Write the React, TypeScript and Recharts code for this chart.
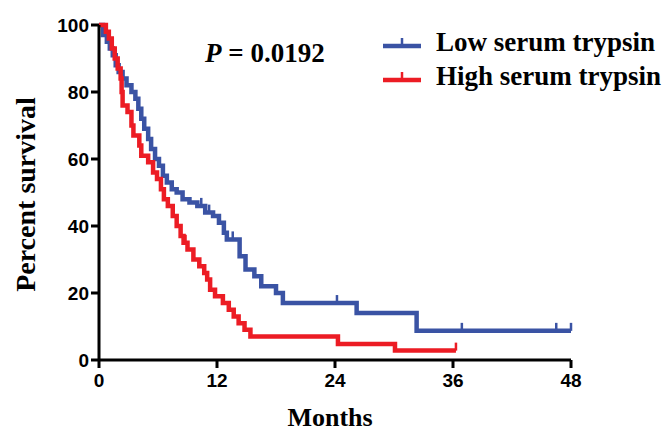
import React from "react";
import {
  ComposedChart,
  Line,
  XAxis,
  YAxis,
  Legend,
} from "recharts";

// Kaplan-Meier steps (months, percent survival)
const lowMonths = [0, 0.4, 0.8, 1.1, 1.4, 1.7, 2.0, 2.4, 2.8, 3.3, 3.7, 4.0, 4.3, 4.6, 5.0, 5.3, 5.7, 6.1, 6.5, 6.9, 7.4, 7.9, 8.5, 9.2, 10.0, 10.8, 11.6, 12.2, 12.7, 13.0, 14.3, 14.9, 15.8, 16.5, 18.0, 18.7, 26.2, 32.3];
const lowSurvival = [100, 97, 95, 93, 91, 88, 86, 84, 82, 80, 78, 75, 72, 69, 66, 63, 60, 58, 55, 53, 51, 50, 48, 47, 46, 44, 43, 41, 38, 36, 31, 27, 25, 22, 20, 17, 14, 8.7];
const lowCensored = [10.4, 11.2, 13.6, 24.2, 36.9, 46.5, 48];

const highMonths = [0, 0.7, 1.0, 1.3, 1.6, 1.9, 2.2, 2.3, 2.4, 2.9, 3.3, 3.5, 4.1, 4.3, 5.0, 5.5, 5.9, 6.3, 6.6, 7.0, 7.5, 7.9, 8.3, 8.6, 9.0, 9.6, 10.2, 10.7, 11.0, 11.3, 11.8, 12.6, 13.2, 13.7, 14.2, 14.8, 15.4, 24.3, 30.1];
const highSurvival = [100, 98, 96, 93, 90, 87, 84, 80, 76, 74, 70, 67, 64, 61, 59, 56, 54, 51, 48, 46, 43, 40, 37, 35, 33, 30, 28, 26, 24, 21, 19, 17, 15, 13, 11, 9, 7, 4.8, 2.8];
const highCensored = [8.8, 36.3];

const xTicks = [0, 12, 24, 36, 48];
const yTicks = [0, 20, 40, 60, 80, 100];

const seriesNames = ["Low serum trypsin", "High serum trypsin"];
const seriesColors = ["#3a53a4", "#ec1c24"];

const pValue = "0.0192";

type Pt = { m: number; s: number; c?: boolean };

function buildCurve(months: number[], surv: number[], censored: number[]): Pt[] {
  const pts: Pt[] = months.map((m, i) => ({ m, s: surv[i] }));
  censored.forEach((cm) => {
    let s = surv[0];
    months.forEach((m, i) => {
      if (m <= cm) s = surv[i];
    });
    pts.push({ m: cm, s, c: true });
  });
  return pts.sort((a, b) => a.m - b.m);
}

const lowData = buildCurve(lowMonths, lowSurvival, lowCensored);
const highData = buildCurve(highMonths, highSurvival, highCensored);

const serif = '"Liberation Serif", "Times New Roman", serif';
const sans = '"Liberation Sans", Arial, sans-serif';

const censorDot = (color: string) => (props: any) => {
  const { cx, cy, payload, index } = props;
  if (!payload?.c) return <g key={`n-${index}`} />;
  return (
    <line
      key={`c-${index}`}
      x1={cx}
      x2={cx}
      y1={cy - 8}
      y2={cy}
      stroke={color}
      strokeWidth={2.5}
    />
  );
};

const LegendBox = () => (
  <div style={{ fontFamily: serif, fontWeight: "bold", fontSize: 27, color: "#000" }}>
    {seriesNames.map((n, i) => (
      <div key={n} style={{ display: "flex", alignItems: "center", height: 34 }}>
        <svg width={38} height={14}>
          <line x1={0} x2={38} y1={11} y2={11} stroke={seriesColors[i]} strokeWidth={4.5} />
          <line x1={19} x2={19} y1={3} y2={11} stroke={seriesColors[i]} strokeWidth={2.5} />
        </svg>
        <span style={{ marginLeft: 15, lineHeight: 1 }}>{n}</span>
      </div>
    ))}
  </div>
);

const YTitle = (props: any) => {
  const vb = props.viewBox || { y: 25, height: 335 };
  const cx = 25;
  const cy = vb.y + vb.height / 2 + 2;
  return (
    <text
      x={cx}
      y={cy}
      transform={`rotate(-90, ${cx}, ${cy})`}
      textAnchor="middle"
      dominantBaseline="central"
      fontFamily={serif}
      fontWeight="bold"
      fontSize={28}
      fill="#000"
    >
      Percent survival
    </text>
  );
};

const XTitle = (props: any) => {
  const vb = props.viewBox || { x: 99, width: 472 };
  return (
    <text
      x={vb.x + vb.width / 2 - 5}
      y={426}
      textAnchor="middle"
      fontFamily={serif}
      fontWeight="bold"
      fontSize={26}
      fill="#000"
    >
      Months
    </text>
  );
};

export default function App() {
  const tickStyle = { fill: "#000", fontSize: 19, fontWeight: "bold", fontFamily: sans };
  return (
    <div style={{ position: "absolute", left: 0, top: 0, width: 668, height: 434, background: "#fff" }}>
      <ComposedChart
        width={668}
        height={434}
        margin={{ top: 25, right: 97, bottom: 0, left: 0 }}
      >
        <XAxis
          type="number"
          dataKey="m"
          domain={[0, 48]}
          ticks={xTicks}
          interval={0}
          height={74}
          tickSize={8}
          tickMargin={6}
          axisLine={{ stroke: "#000", strokeWidth: 3 }}
          tickLine={{ stroke: "#000", strokeWidth: 3 }}
          tick={tickStyle}
          label={{ content: <XTitle /> }}
        />
        <YAxis
          type="number"
          domain={[0, 100]}
          ticks={yTicks}
          interval={0}
          width={99}
          tickSize={8}
          tickMargin={2}
          axisLine={{ stroke: "#000", strokeWidth: 3 }}
          tickLine={{ stroke: "#000", strokeWidth: 3 }}
          tick={tickStyle}
          label={{ content: <YTitle /> }}
        />
        <Legend
          layout="vertical"
          align="center"
          verticalAlign="middle"
          content={<LegendBox />}
          wrapperStyle={{ position: "absolute", left: 383, top: 25, width: 290 }}
        />
        <Line
          name={seriesNames[0]}
          data={lowData}
          dataKey="s"
          type="stepAfter"
          stroke={seriesColors[0]}
          strokeWidth={4.5}
          dot={censorDot(seriesColors[0])}
          activeDot={false}
          isAnimationActive={false}
        />
        <Line
          name={seriesNames[1]}
          data={highData}
          dataKey="s"
          type="stepAfter"
          stroke={seriesColors[1]}
          strokeWidth={4.5}
          dot={censorDot(seriesColors[1])}
          activeDot={false}
          isAnimationActive={false}
        />
      </ComposedChart>
      <div
        style={{
          position: "absolute",
          left: 205,
          top: 40,
          fontFamily: serif,
          fontWeight: "bold",
          fontSize: 27,
          lineHeight: 1,
          color: "#000",
        }}
      >
        <i>P</i> = {pValue}
      </div>
    </div>
  );
}
